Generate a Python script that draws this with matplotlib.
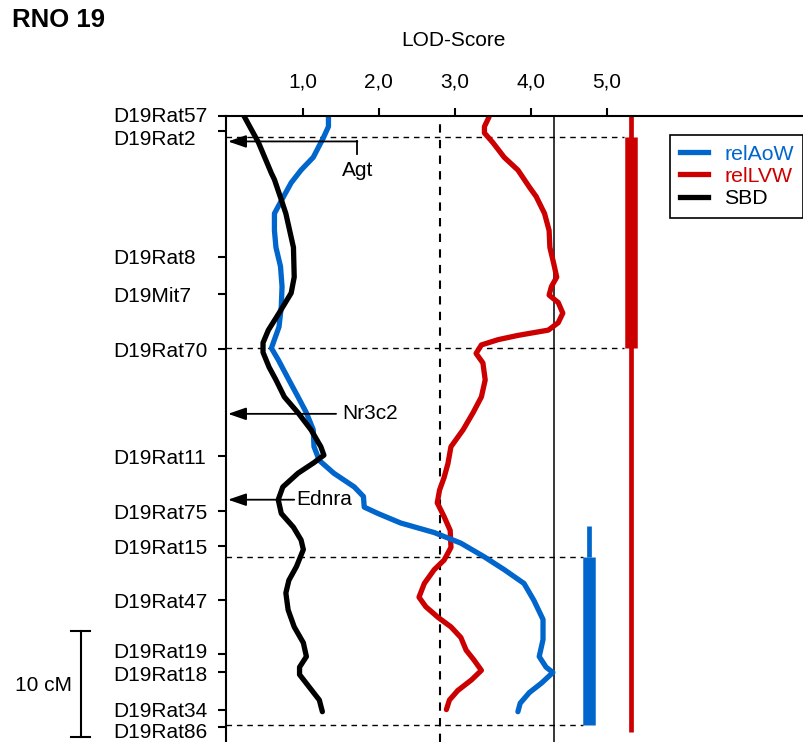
import matplotlib
matplotlib.use("Agg")
import matplotlib.pyplot as plt
from matplotlib import transforms
from matplotlib.lines import Line2D

plt.rcParams['font.family'] = ['Liberation Sans', 'DejaVu Sans']

# marker map (cM from top)
markers = ["D19Rat57", "D19Rat2", "D19Rat8", "D19Mit7", "D19Rat70", "D19Rat11",
           "D19Rat75", "D19Rat15", "D19Rat47", "D19Rat19", "D19Rat18", "D19Rat34",
           "D19Rat86"]
marker_cm = [0, 1.4, 13.3, 16.8, 22.0, 32.1, 37.3, 40.6, 45.7, 50.8, 52.5, 56.0, 57.6]
label_shift = [1, -7, 0, 0, 0, 0, 0, 0, 0, 3.5, -1, 0, -3.5]   # px, labels nudged

lod_ticks = [1, 2, 3, 4, 5]
lod_labels = ["1,0", "2,0", "3,0", "4,0", "5,0"]

# LOD curves
sbd_cm = [0, 2.5, 5.4, 6.0, 7.9, 9.2, 12.4, 15.2, 16.7, 18.6, 20.2, 21.4, 22.3, 23.7,
          24.9, 26.5, 28.0, 29.6, 31.2, 32.0, 32.7, 33.7, 35.0, 36.2, 37.5, 38.8,
          40.0, 40.9, 42.5, 43.8, 45.0, 46.6, 48.2, 49.7, 51.0, 52.0, 52.7, 53.9,
          55.1, 56.2]
sbd_lod = [0.23, 0.42, 0.59, 0.63, 0.72, 0.78, 0.88, 0.89, 0.85, 0.69, 0.55, 0.48,
           0.48, 0.56, 0.65, 0.76, 0.94, 1.11, 1.24, 1.28, 1.15, 0.94, 0.74, 0.68,
           0.72, 0.88, 0.98, 1.01, 0.92, 0.82, 0.78, 0.81, 0.89, 1.01, 1.05, 0.96,
           0.96, 1.09, 1.22, 1.26]

aow_cm = [0.1, 1.0, 2.1, 3.9, 5.1, 6.3, 7.6, 9.2, 10.8, 12.4, 14.2, 16.1, 18.0, 19.9,
          21.1, 21.9, 23.0, 24.9, 26.5, 28.0, 29.6, 31.2, 32.5, 33.7, 35.0, 35.9,
          36.9, 37.5, 38.4, 39.3, 40.3, 41.6, 42.8, 44.1, 45.7, 47.5, 49.4, 51.0,
          52.0, 52.5, 53.5, 54.4, 55.4, 56.2]
aow_lod = [1.34, 1.34, 1.27, 1.14, 0.98, 0.85, 0.75, 0.63, 0.63, 0.65, 0.71, 0.73,
           0.72, 0.69, 0.63, 0.59, 0.68, 0.82, 0.94, 1.05, 1.14, 1.15, 1.22, 1.41,
           1.68, 1.80, 1.81, 1.99, 2.29, 2.73, 3.08, 3.39, 3.65, 3.91, 4.04, 4.16,
           4.16, 4.11, 4.20, 4.29, 4.14, 3.98, 3.86, 3.83]

lvw_cm = [0.1, 1.0, 1.6, 2.5, 3.9, 5.1, 6.7, 7.6, 9.2, 10.8, 12.4, 13.9, 15.2, 16.1,
          16.9, 17.6, 18.6, 19.5, 20.2, 20.7, 21.1, 21.6, 22.4, 23.3, 24.9, 26.5,
          28.0, 29.6, 31.2, 32.8, 34.1, 35.3, 36.5, 37.8, 39.1, 40.7, 41.9, 42.8,
          44.1, 45.4, 46.3, 47.3, 48.2, 49.2, 50.4, 51.3, 52.3, 53.2, 54.2, 55.1,
          56.0]
lvw_lod = [3.45, 3.39, 3.39, 3.50, 3.65, 3.83, 3.98, 4.07, 4.18, 4.24, 4.25, 4.30,
           4.34, 4.27, 4.24, 4.36, 4.42, 4.36, 4.23, 3.83, 3.57, 3.35, 3.28, 3.37,
           3.40, 3.35, 3.24, 3.11, 2.95, 2.91, 2.86, 2.80, 2.77, 2.86, 2.94, 2.95,
           2.86, 2.73, 2.60, 2.53, 2.62, 2.78, 2.95, 3.08, 3.15, 3.25, 3.35, 3.22,
           3.04, 2.93, 2.89]

# thresholds
suggestive = 2.8
significant = 4.3

# confidence intervals: (x, thin range, thick range)
lvw_ci_x = 5.32
lvw_thin = (0, 58.1)
lvw_thick = (1.95, 21.9)
aow_ci_x = 4.77
aow_thin = (38.7, 41.6)
aow_thick = (41.6, 57.5)

genes = ["Agt", "Nr3c2", "Ednra"]
gene_cm = [2.4, 28.1, 36.2]
gene_end = [1.72, 1.44, 0.89]

blue = "#0066cc"
red = "#cc0000"

fig = plt.figure(figsize=(8.04, 7.42), dpi=100)
ax = fig.add_axes([226.5 / 804, 0, 577.5 / 804, 626 / 742])
ax.set_xlim(0, 7.59)
ax.set_ylim(59.06, 0)

for s in ["right", "bottom"]:
    ax.spines[s].set_visible(False)
for s in ["left", "top"]:
    ax.spines[s].set_linewidth(1.5)

ax.xaxis.tick_top()
ax.set_xticks(lod_ticks)
ax.set_xticklabels(lod_labels, fontsize=15)
ax.tick_params(axis="x", length=6, width=1.5, pad=12, direction="out")
ax.set_yticks(marker_cm)
ax.set_yticklabels([])
ax.tick_params(axis="y", length=6, width=1.5, direction="out")

trans = transforms.blended_transform_factory(fig.transFigure, ax.transData)
for name, y, dy in zip(markers, marker_cm, label_shift):
    t = transforms.offset_copy(trans, fig=fig, x=0, y=dy * 0.72, units="points")
    ax.text(113 / 804, y, name, transform=t, ha="left", va="center_baseline",
            fontsize=15, clip_on=False)

# threshold lines
ax.axvline(suggestive, color="k", lw=1.5, ls=(0, (4, 3.5)))
ax.axvline(significant, color="k", lw=1.1)

# interval borders
for y in lvw_thick:
    ax.plot([0, lvw_ci_x - 0.09], [y, y], color="k", lw=1.0, ls=(0, (4, 3.5)))
for y in (aow_thick[0], aow_thick[1]):
    ax.plot([0, aow_ci_x - 0.09], [y, y], color="k", lw=1.0, ls=(0, (4, 3.5)))

# confidence interval bars
ax.plot([lvw_ci_x, lvw_ci_x], lvw_thin, color=red, lw=3.4, solid_capstyle="butt")
ax.plot([lvw_ci_x, lvw_ci_x], lvw_thick, color=red, lw=9, solid_capstyle="butt")
ax.plot([aow_ci_x, aow_ci_x], aow_thin, color=blue, lw=3.4, solid_capstyle="butt")
ax.plot([aow_ci_x, aow_ci_x], aow_thick, color=blue, lw=9, solid_capstyle="butt")

# curves
ax.plot(lvw_lod, lvw_cm, color=red, lw=3.8, solid_joinstyle="round", solid_capstyle="round")
ax.plot(aow_lod, aow_cm, color=blue, lw=3.8, solid_joinstyle="round", solid_capstyle="round")
ax.plot(sbd_lod, sbd_cm, color="k", lw=3.8, solid_joinstyle="round", solid_capstyle="round")

# gene positions
for g, y, x1 in zip(genes, gene_cm, gene_end):
    ax.annotate("", xy=(0.02, y), xytext=(x1, y),
                arrowprops=dict(arrowstyle="-|>,head_length=1.1,head_width=0.38",
                                color="k", lw=1.3, shrinkA=0, shrinkB=0,
                                mutation_scale=10))
ax.plot([gene_end[0], gene_end[0]], [gene_cm[0], gene_cm[0] + 1.2], color="k", lw=1.3)
ax.text(gene_end[0], gene_cm[0] + 2.7, genes[0], ha="center", va="center", fontsize=15)
ax.text(gene_end[1] + 0.08, gene_cm[1], genes[1], ha="left", va="center", fontsize=15)
ax.text(gene_end[2] + 0.03, gene_cm[2], genes[2], ha="left", va="center", fontsize=15)

# 10 cM scale bar
sx = -1.91
ax.plot([sx, sx], [48.6, 58.6], color="k", lw=1.5, clip_on=False)
for y in (48.6, 58.6):
    ax.plot([sx - 0.13, sx + 0.12], [y, y], color="k", lw=1.5, clip_on=False)
ax.text(sx - 0.12, 53.7, "10 cM", ha="right", va="center", fontsize=15, clip_on=False)

# legend
handles = [Line2D([], [], color=blue, lw=3.8),
           Line2D([], [], color=red, lw=3.8),
           Line2D([], [], color="k", lw=3.8)]
leg = ax.legend(handles, ["relAoW", "relLVW", "SBD"], loc="upper left",
                bbox_to_anchor=(670 / 804, 1 - 135 / 742), bbox_transform=fig.transFigure,
                borderaxespad=0, fontsize=15.3, frameon=True, fancybox=False,
                edgecolor="k", framealpha=1, handlelength=1.35, handletextpad=0.75,
                labelspacing=0.15, borderpad=0.45)
leg.get_frame().set_linewidth(1.2)
for txt, c in zip(leg.get_texts(), [blue, red, "k"]):
    txt.set_color(c)

fig.text(453 / 804, 1 - 40 / 742, "LOD-Score", ha="center", va="center", fontsize=15)
fig.text(12 / 804, 1 - 20 / 742, "RNO 19", ha="left", va="center", fontsize=18.5,
         fontweight="bold")

fig.savefig("out.png", dpi=100)
